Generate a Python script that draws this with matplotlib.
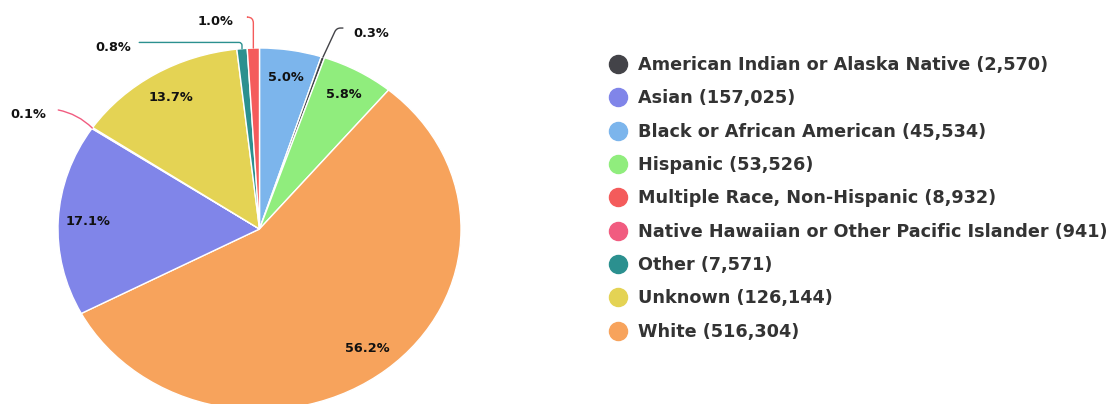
import numpy as np
import matplotlib
matplotlib.use("Agg")
from matplotlib import pyplot as plt
from matplotlib.lines import Line2D

# datos (orden de la leyenda)
categorias = ["American Indian or Alaska Native", "Asian", "Black or African American",
              "Hispanic", "Multiple Race, Non-Hispanic",
              "Native Hawaiian or Other Pacific Islander", "Other", "Unknown", "White"]
conteos = [2570, 157025, 45534, 53526, 8932, 941, 7571, 126144, 516304]
colores = ["#434348", "#8085e9", "#7cb5ec", "#90ed7d", "#f45b5b",
           "#f15c80", "#2b908f", "#e4d354", "#f7a35c"]

# orden de los sectores (en sentido horario desde las 12)
orden_sectores = ["Black or African American", "American Indian or Alaska Native", "Hispanic",
                  "White", "Asian", "Native Hawaiian or Other Pacific Islander",
                  "Unknown", "Other", "Multiple Race, Non-Hispanic"]

# etiquetas externas: (texto en puntos, fin de linea en puntos, conexion)
externas = {
    "Multiple Race, Non-Hispanic": ((-27, 19.5), (-4.3, 22.3), "angle,angleA=0,angleB=90,rad=6"),
    "Other": ((-92.5, 0.5), (-74, 4.5), "angle,angleA=0,angleB=90,rad=3"),
    "American Indian or Alaska Native": ((35, 17), (14.4, 21), "angle,angleA=0,angleB=65,rad=4"),
    "Native Hawaiian or Other Pacific Islander": ((-46, 10), (-24.5, 13), "arc3,rad=-0.15"),
}

fig = plt.figure(figsize=(11.17, 4.04), dpi=100)
ax = fig.add_axes([58 / 1117, -6 / 404, 403 / 1117, 362 / 404])

idx = [categorias.index(c) for c in orden_sectores]
valores = [conteos[i] for i in idx]
cols = [colores[i] for i in idx]
total = sum(conteos)

wedges, _ = ax.pie(valores, colors=cols, startangle=90, counterclock=False,
                   wedgeprops=dict(edgecolor="white", linewidth=1))
ax.set_aspect("auto")
ax.set_xlim(-1, 1)
ax.set_ylim(-1, 1)

for w, nombre, v, c in zip(wedges, orden_sectores, valores, cols):
    pct = v / total * 100
    ang = np.deg2rad((w.theta1 + w.theta2) / 2)
    txt = f"{pct:.1f}%"
    if nombre in externas:
        pos_txt, pos_lin, con = externas[nombre]
        borde = (np.cos(ang), np.sin(ang))
        ax.annotate("", xy=borde, xytext=pos_lin, textcoords="offset points",
                    arrowprops=dict(arrowstyle="-", color=c, lw=1,
                                    connectionstyle=con, shrinkA=0, shrinkB=0))
        ax.annotate(txt, xy=borde, xytext=pos_txt, textcoords="offset points",
                    ha="center", va="center", fontsize=9.3, fontweight="bold",
                    color="#111111")
    else:
        r = 0.85
        ax.text(r * np.cos(ang), r * np.sin(ang), txt, ha="center", va="center",
                fontsize=9.3, fontweight="bold", color="#111111")

manejadores = [Line2D([], [], marker="o", linestyle="", markersize=13,
                      markerfacecolor=c, markeredgecolor=c) for c in colores]
etiquetas = [f"{n} ({v:,})" for n, v in zip(categorias, conteos)]
leg = fig.legend(manejadores, etiquetas, loc="upper left",
                 bbox_to_anchor=(609 / 1117, 1 - 56 / 404), frameon=False,
                 prop=dict(size=12.7, weight="bold"), labelspacing=0.87,
                 handlelength=1.0, handletextpad=0.65, borderpad=0, borderaxespad=0)
for t in leg.get_texts():
    t.set_color("#333333")

plt.savefig("out.png", dpi=100)
plt.close()
